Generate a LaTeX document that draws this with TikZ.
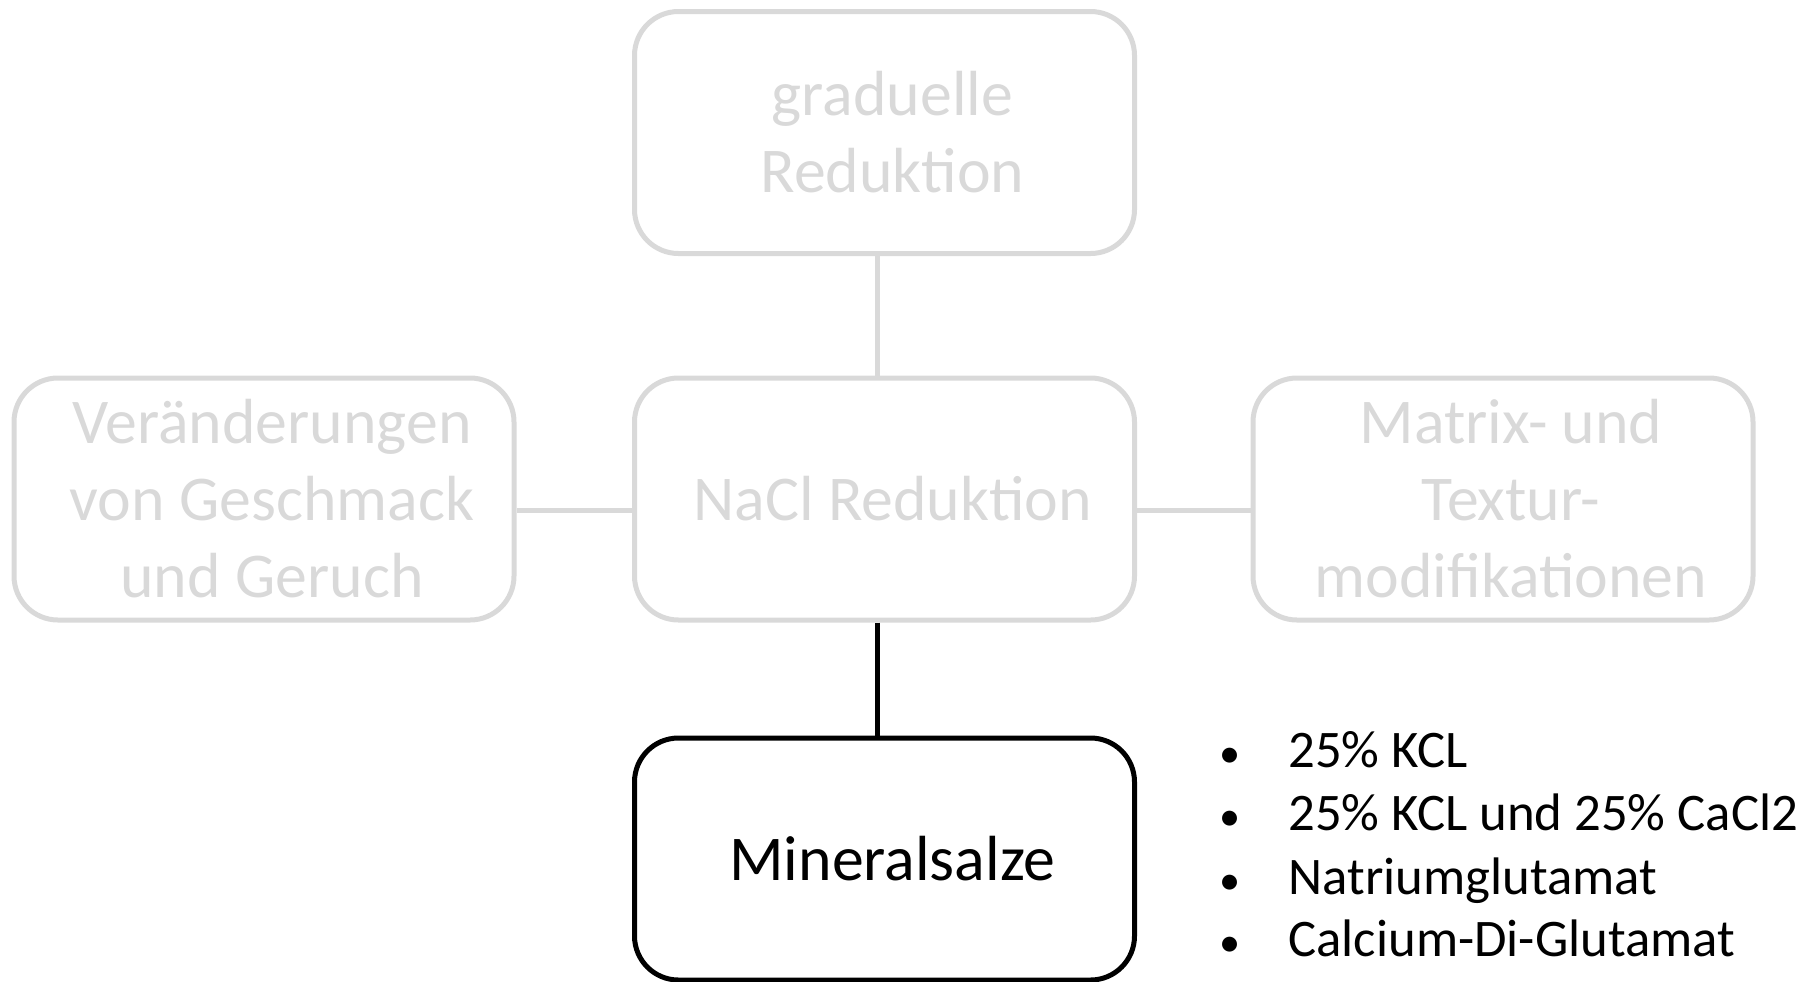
\documentclass[tikz,border=0pt]{standalone}
\usepackage{fontspec}
\setmainfont{Carlito}
\definecolor{lightgr}{HTML}{D9D9D9}
\newcommand{\shl}{\hspace*{8pt}}
\newcommand{\bul}{\makebox[35.5pt][l]{\hspace*{1pt}\scalebox{0.8}{•}}}
\begin{document}
\begin{tikzpicture}[x=0.5pt,y=-0.5pt,
  box/.style={draw, rounded corners=22pt, line width=2.5pt,
    minimum width=250pt, minimum height=121pt, align=center,
    font=\fontsize{31.9pt}{38.5pt}\selectfont, inner sep=0pt},
  faded/.style={box, draw=lightgr, text=lightgr},
  conn/.style={line width=2.5pt, draw=lightgr},
  item/.style={anchor=base west, inner sep=0pt, font=\fontsize{26.4pt}{31.5pt}\selectfont}
]
\useasboundingbox (0,0) rectangle (1813,981);
\node[faded] (top) at (884.5,132.5) {\shl graduelle\\\shl Reduktion};
\node[faded] (left) at (264,499) {\shl Veränderungen\\\shl von Geschmack\\\shl und Geruch};
\node[faded] (mid) at (884.5,499) {\shl NaCl Reduktion};
\node[faded] (right) at (1503,499) {\shl Matrix- und\\\shl Textur-\\\shl modifikationen};
\node[box, draw=black, text=black] (bot) at (884.5,859) {\shl Mineralsalze};
\draw[conn] ([xshift=-3.5pt]top.south) -- ([xshift=-3.5pt]mid.north);
\draw[conn] ([yshift=-5.5pt]left.east) -- ([yshift=-5.5pt]mid.west);
\draw[conn] ([yshift=-5.5pt]mid.east) -- ([yshift=-5.5pt]right.west);
\draw[line width=2.8pt, black] ([xshift=-3.5pt]mid.south) -- ([xshift=-3.5pt]bot.north);
\node[item] (b1) at (1217,767) {\bul 25\% KCL};
\node[item] (b2) at (1217,830) {\bul 25\% KCL und 25\% CaCl2};
\node[item] (b3) at (1217,894) {\bul Natriumglutamat};
\node[item] (b4) at (1217,956) {\bul Calcium-Di-Glutamat};
\end{tikzpicture}
\end{document}
